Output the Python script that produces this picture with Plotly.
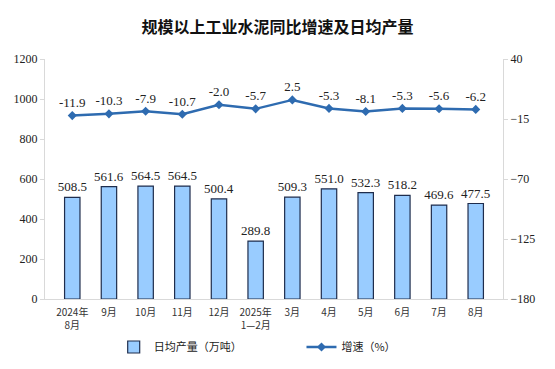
import plotly.graph_objects as go

categories = ["2024年<br>8月", "9月", "10月", "11月", "12月", "2025年<br>1—2月",
              "3月", "4月", "5月", "6月", "7月", "8月"]
output = [508.5, 561.6, 564.5, 564.5, 500.4, 289.8, 509.3, 551.0, 532.3, 518.2, 469.6, 477.5]
growth = [-11.9, -10.3, -7.9, -10.7, -2.0, -5.7, 2.5, -5.3, -8.1, -5.3, -5.6, -6.2]
right_ticks = [40, -15, -70, -125, -180]

serif = "Liberation Serif, Times New Roman, serif"
cjk = "Noto Sans CJK SC, sans-serif"

fig = go.Figure()
fig.add_trace(go.Bar(
    x=categories, y=output, name="日均产量（万吨）",
    marker=dict(color="#99ccff", line=dict(color="#1f2d4d", width=1.2)),
    width=0.42,
    text=[f"{v:.1f}" for v in output], textposition="outside",
    constraintext="none",
    textfont=dict(family=serif, size=13, color="#222"),
    cliponaxis=False, legend="legend",
))
fig.add_trace(go.Scatter(
    x=categories, y=growth, name="增速（%）", yaxis="y2",
    mode="lines+markers+text",
    line=dict(color="#2e6bb0", width=2.5),
    marker=dict(symbol="diamond", size=7, color="#2e6bb0"),
    text=[f"{v:.1f}" for v in growth], textposition="top center",
    textfont=dict(family=serif, size=13, color="#222"),
    cliponaxis=False, legend="legend2",
))

fig.update_layout(
    width=555, height=369,
    margin=dict(l=45, r=52, t=59, b=70, autoexpand=False),
    paper_bgcolor="white", plot_bgcolor="white",
    title=dict(text="规模以上工业水泥同比增速及日均产量", x=0.5, xanchor="center",
               y=0.925, yanchor="middle",
               font=dict(family=cjk, size=16, color="#111", weight=600)),
    showlegend=True,
    xaxis=dict(showgrid=False, showline=True, linecolor="#d9d9d9", ticks="",
               automargin=False, ticklabelstandoff=4,
               tickfont=dict(family=cjk, size=10, color="#333")),
    yaxis=dict(range=[0, 1200], dtick=200, showgrid=False, showline=True,
               automargin=False,
               linecolor="#d9d9d9", ticks="outside", ticklen=4, tickcolor="#d9d9d9",
               tickfont=dict(family=serif, size=12, color="#222")),
    yaxis2=dict(range=[-180, 40], tickvals=right_ticks, overlaying="y", side="right",
                automargin=False,
                showgrid=False, showline=True, linecolor="#d9d9d9",
                ticks="outside", ticklen=4, tickcolor="#d9d9d9",
                tickfont=dict(family=serif, size=12, color="#222"), zeroline=False),
    legend=dict(x=0.15, y=-0.2, xanchor="left", yanchor="middle",
                font=dict(family=cjk, size=11, color="#222"), bgcolor="rgba(0,0,0,0)"),
    legend2=dict(x=0.56, y=-0.2, xanchor="left", yanchor="middle",
                 font=dict(family=cjk, size=11, color="#222"), bgcolor="rgba(0,0,0,0)"),
)

fig.write_html("out.html", config={"displayModeBar": False},
               post_script="document.body.style.margin='0';")
